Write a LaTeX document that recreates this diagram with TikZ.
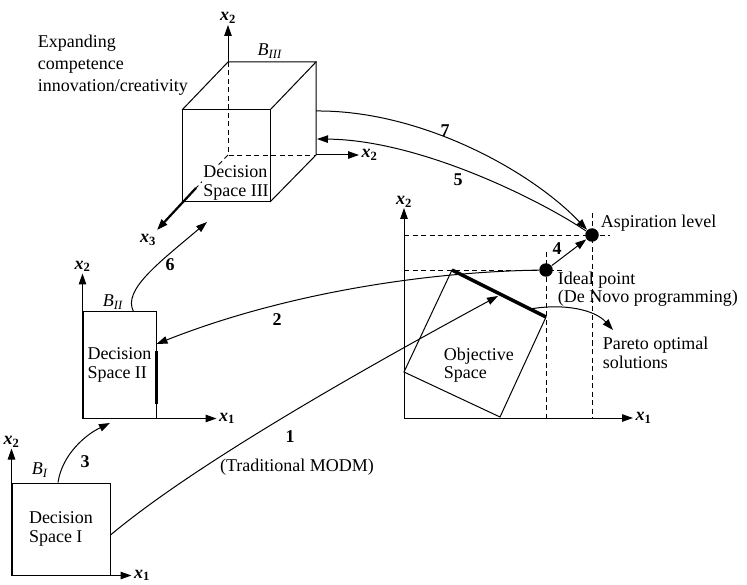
\documentclass[tikz,border=0pt]{standalone}
\usepackage{fontspec}
\setmainfont{Liberation Serif}
\usepackage{tikz}
\usetikzlibrary{arrows.meta,positioning,calc}

\newcommand{\xlab}[1]{\textbf{\textit{x}\textsubscript{#1}}}
\newcommand{\blab}[1]{\textit{B}\textsubscript{\textit{#1}}}

\begin{document}
\begin{tikzpicture}[x=1pt,y=-1pt,line width=1pt,
    >={Triangle[length=11pt,width=7.5pt]},
    font=\fontsize{18}{18.5}\selectfont,
    box/.style={draw, rectangle, inner sep=0pt, align=left},
    dot/.style={circle, fill=black, inner sep=0pt, minimum size=13.5pt},
    num/.style={font=\fontsize{18}{18.5}\selectfont\bfseries},
    guide/.style={line width=0.9pt, dash pattern=on 5pt off 3.5pt}]
    \useasboundingbox (0,0) rectangle (747,585);

    % Decision space I (bottom left)
    \node[box, minimum width=98pt, minimum height=92pt] (dsI) at (61,529) {Decision\\Space I};
    \draw[->] (dsI.south west) -- ++(0,-127) node[above, inner sep=1pt] (dsIy) {\xlab2};
    \draw[->] (dsI.south west) -- ++(120,0) node[right, inner sep=2pt] (dsIx) {\xlab1};
    \node (bI) at (40,470) {\blab{I}};

    % Decision space II
    \node[box, minimum width=73pt, minimum height=106pt] (dsII) at (119.5,365) {Decision\\Space II};
    \draw[line width=2.5pt] ($(dsII.south east)+(0,-15)$) -- ($(dsII.south east)+(0,-68)$);
    \draw[->] (dsII.south west) -- ++(0,-145) node[above, inner sep=1pt] (dsIIy) {\xlab2};
    \draw[->] (dsII.south west) -- ++(134,0) node[right, inner sep=2pt] (dsIIx) {\xlab1};
    \node (bII) at (113,302) {\blab{II}};

    % Decision space III (cube)
    \coordinate (ftl) at (182,110);
    \coordinate (ftr) at (270,110);
    \coordinate (fbr) at (270,202);
    \coordinate (fbl) at (182,202);
    \coordinate (btl) at (228,62);
    \coordinate (btr) at (316,62);
    \coordinate (bbr) at (316,155);
    \coordinate (bbl) at (228,155);
    \coordinate (x3s) at (196,188);
    \draw[guide] (btl) -- (bbl) -- (bbr);
    \draw[guide] (bbl) -- (x3s);
    \node[fill=white, inner sep=1pt, align=left] (dsIII) at (236,183) {Decision\\Space III};
    \draw (ftl) rectangle (fbr);
    \draw (ftl) -- (btl) -- (btr) -- (ftr);
    \draw (btr) -- (bbr) -- (fbr);
    \draw[->, line width=2.2pt] (x3s) -- (157,230);
    \node (dsIIIz) at (148,240) {\xlab3};
    \draw[->] (btl) -- (228,25) node[above, inner sep=1pt] (dsIIIy) {\xlab2};
    \draw[->] (bbr) -- (359,155) node[right, inner sep=2pt] (dsIIIx) {\xlab2};
    \node (bIII) at (270,51) {\blab{III}};
    \node[anchor=west, align=left, font=\fontsize{18}{22}\selectfont] (expand) at (34,65)
        {Expanding\\competence\\innovation/creativity};

    % Objective space
    \coordinate (o) at (404,418);
    \coordinate (pa) at (452,270);
    \coordinate (pb) at (546,317);
    \draw[guide] (404,270) -- (563,270);
    \draw[guide] (546,252) -- (546,418);
    \draw[guide] (404,235) -- (610,235);
    \draw[guide] (592,213) -- (592,418);
    \draw[->] (o) -- (404,208) node[above, inner sep=0pt] (objy) {\xlab2};
    \draw[->] (o) -- (633,418) node[right, inner sep=2pt] (objx) {\xlab1};
    \draw (pa) -- (pb) -- (500,417) -- (404,372) -- cycle;
    \draw[line width=3.5pt] (pa) -- (pb);
    \node[anchor=west, align=left] (objtext) at (440,365) {Objective\\Space};
    \node[dot] (ideal) at (546,270) {};
    \node[dot] (asp) at (592,235) {};
    \node[anchor=west] (asplab) at (597,223) {Aspiration level};
    \node[anchor=west, align=left] (ideallab) at (554,289) {Ideal point\\(De Novo programming)};
    \node[anchor=west, align=left] (parlab) at (599,353) {Pareto optimal\\solutions};

    % Connectors
    \coordinate (c7) at (316,111);
    \coordinate (c5) at (317,139);
    \coordinate (t1) at (498,296);
    \coordinate (t3) at (110,423);
    \coordinate (t6) at (207,222);
    \coordinate (par) at ($(pa)!0.83!(pb)$);
    \coordinate (t8) at (613,330);
    \draw[->] ($(dsI.east)+(0,6)$) .. controls (200,460) and (380,360) .. (t1);
    \draw[->] (ideal) .. controls (420,272) and (280,295) .. ($(dsII.east)+(0,-21)$);
    \draw[->] ($(dsI.north)+(-3,0)$) .. controls (62,455) and (85,435) .. (t3);
    \draw[->] (ideal) -- (asp);
    \draw[->] (asp) .. controls (540,200) and (420,140) .. (c5);
    \draw[->] ($(dsII.north)+(14,0)$) .. controls (122,290) and (160,262) .. (t6);
    \draw[->] (c7) .. controls (420,110) and (530,170) .. (asp);
    \draw[->] (par) .. controls (565,303) and (595,310) .. (t8);

    % Labels
    \node[num] (n1) at (290,437) {1};
    \node (trad) at (297,467) {(Traditional MODM)};
    \node[num] (n2) at (277,320) {2};
    \node[num] (n3) at (85,462) {3};
    \node[num] (n4) at (557,249) {4};
    \node[num] (n5) at (458,180) {5};
    \node[num] (n6) at (170,265) {6};
    \node[num] (n7) at (445,131) {7};
\end{tikzpicture}
\end{document}
